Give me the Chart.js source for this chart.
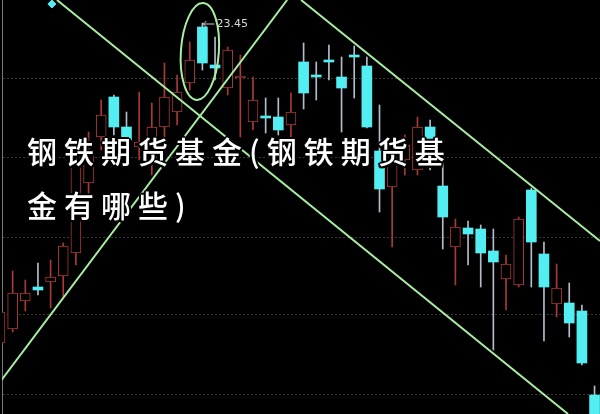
<!DOCTYPE html>
<html>
<head>
<meta charset="utf-8">
<script src="https://cdn.jsdelivr.net/npm/chart.js@4.4.1/dist/chart.umd.min.js"></script>
<style>
    html, body { margin: 0; padding: 0; background: #000; }
    #wrap { position: relative; width: 600px; height: 414px; overflow: hidden; background: #000; }
    #title {
        position: absolute; left: 27px; top: 123px; width: 450px;
        font-family: "Noto Sans CJK SC", sans-serif; font-size: 30px; font-weight: 500;
        line-height: 54px; letter-spacing: 7px; color: #fff;
        text-shadow: -2px 0 #000, 2px 0 #000, 0 -2px #000, 0 2px #000,
                     -1.5px -1.5px #000, 1.5px 1.5px #000, -1.5px 1.5px #000, 1.5px -1.5px #000;
    }
</style>
</head>
<body>
<div id="wrap">
    <canvas id="klineChart"></canvas>
    <div id="title">钢铁期货基金(钢铁期货基金有哪些)</div>
</div>
<script>
// =========================
// DATA
// =========================
const opens  = [20.25, 20.39, 20.67, 20.81, 20.86, 20.92, 21.15, 21.85, 22.31, 22.71,
                22.41, 22.21, 22.08, 22.41, 22.56, 22.85, 23.41, 23.03, 22.80, 22.90,
                22.46, 22.52, 22.51, 22.43, 23.06, 22.93, 23.08, 22.91, 23.13, 23.02,
                22.17, 21.81, 22.08, 21.98, 22.41, 21.82, 21.21, 21.40, 21.39, 21.17,
                20.89, 20.83, 21.78, 21.14, 20.64, 20.65, 20.57, 19.73];
const closes = [20.56, 20.75, 20.75, 20.78, 20.91, 21.22, 22.05, 22.18, 22.53, 22.41,
                22.28, 22.26, 22.41, 22.71, 22.76, 23.08, 23.05, 23.00, 23.18, 22.92,
                22.68, 22.50, 22.38, 22.56, 22.75, 22.91, 23.06, 22.80, 23.11, 22.41,
                21.79, 22.05, 22.23, 22.41, 22.05, 21.51, 21.41, 21.34, 21.15, 21.06,
                21.04, 21.49, 21.26, 20.81, 20.80, 20.45, 20.05, 19.48];
const highs  = [20.63, 20.97, 20.88, 21.05, 21.08, 21.25, 22.18, 22.36, 22.68, 22.73,
                22.56, 22.76, 22.65, 23.05, 22.93, 23.26, 23.45, 23.31, 23.21, 23.13,
                22.91, 22.70, 22.70, 22.75, 23.25, 23.06, 23.23, 23.11, 23.22, 23.11,
                22.63, 22.13, 22.33, 22.51, 22.48, 22.08, 21.49, 21.47, 21.43, 21.39,
                21.13, 21.51, 21.80, 21.26, 21.04, 20.85, 20.63, 19.82];
const lows   = [20.18, 20.36, 20.57, 20.73, 20.60, 20.71, 21.03, 21.73, 22.18, 22.33,
                22.21, 22.08, 21.93, 22.28, 22.43, 22.78, 22.98, 22.88, 22.73, 22.31,
                22.38, 22.35, 22.33, 22.23, 22.59, 22.68, 22.88, 22.36, 22.70, 22.40,
                21.56, 21.21, 21.93, 21.93, 21.98, 21.19, 20.83, 21.03, 20.81, 20.18,
                20.58, 20.81, 20.81, 20.27, 20.51, 20.31, 20.03, 19.38];

// horizontal dotted grid
const gridPrices = [22.89, 22.10, 21.31, 20.53, 19.74];

// trend lines (bar index, price)
const trendDown1 = [{ x: 4.5, y: 23.68 }, { x: 44.9, y: 19.54 }];
const trendUp    = [{ x: 0, y: 19.86 }, { x: 22.7, y: 23.68 }];
const trendDown2 = [{ x: 23.8, y: 23.68 }, { x: 47.43, y: 21.27 }];

// small marker top-left
const markerPoint = [{ x: 4.1, y: 23.64 }];

// circled peak
const peakIndex = 16;
const peakLabel = "23.45";
const ellipseMark = { x: 15.8, y: 23.165, rx: 1.5, ry: 0.485 };

// =========================
// COLORS
// =========================
const UP_RED = "#a83a38";
const DOWN_CYAN = "#52eef2";
const DOWN_WICK = "#b4bccc";
const LINE_GREEN = "#a8eea2";

// =========================
// BUILD SERIES
// =========================
const upWicks = [], downWicks = [], upBodies = [], downBodies = [];
opens.forEach((o, i) => {
    const isUp = closes[i] >= o;
    const wick = { x: i, y: [lows[i], highs[i]] };
    const body = { x: i, y: [o, closes[i]] };
    if (isUp) { upWicks.push(wick); upBodies.push(body); }
    else { downWicks.push(wick); downBodies.push(body); }
});

// =========================
// OVERLAY PLUGIN (ellipse + peak label)
// =========================
const overlayPlugin = {
    id: "overlay",
    afterDatasetsDraw(chart) {
        const { ctx, scales: { x, y } } = chart;
        const cx = x.getPixelForValue(ellipseMark.x);
        const cy = y.getPixelForValue(ellipseMark.y);
        const rx = Math.abs(x.getPixelForValue(ellipseMark.x + ellipseMark.rx) - cx);
        const ry = Math.abs(y.getPixelForValue(ellipseMark.y + ellipseMark.ry) - cy);

        ctx.save();
        ctx.strokeStyle = LINE_GREEN;
        ctx.lineWidth = 2;
        ctx.beginPath();
        ctx.ellipse(cx, cy, rx, ry, 0.07, 0, Math.PI * 2);
        ctx.stroke();

        // peak arrow + value
        const px = x.getPixelForValue(peakIndex);
        const py = y.getPixelForValue(highs[peakIndex]) + 1;
        ctx.strokeStyle = "#d0d0d0";
        ctx.lineWidth = 1;
        ctx.beginPath();
        ctx.moveTo(px + 1, py);
        ctx.lineTo(px + 12, py);
        ctx.moveTo(px + 1, py);
        ctx.lineTo(px + 4, py - 3);
        ctx.moveTo(px + 1, py);
        ctx.lineTo(px + 4, py + 3);
        ctx.stroke();
        ctx.fillStyle = "#d8d8d8";
        ctx.font = "11px 'DejaVu Sans', sans-serif";
        ctx.textBaseline = "middle";
        ctx.fillText(peakLabel, px + 14, py);
        ctx.restore();
    }
};

// =========================
// CHART
// =========================
const lineDs = (data) => ({
    type: "line",
    data,
    borderColor: LINE_GREEN,
    borderWidth: 2,
    pointRadius: 0,
    fill: false,
    order: 0
});

new Chart(document.getElementById("klineChart"), {
    type: "bar",
    data: {
        datasets: [
            lineDs(trendDown1),
            lineDs(trendUp),
            lineDs(trendDown2),
            {
                type: "line",
                data: markerPoint,
                showLine: false,
                pointStyle: "rectRot",
                pointRadius: 4,
                backgroundColor: DOWN_CYAN,
                borderColor: DOWN_CYAN,
                order: 0
            },
            {
                data: upBodies,
                backgroundColor: "#000",
                borderColor: UP_RED,
                borderWidth: 1,
                borderSkipped: false,
                barThickness: 10,
                grouped: false,
                order: 1
            },
            {
                data: downBodies,
                backgroundColor: DOWN_CYAN,
                borderWidth: 0,
                barThickness: 10,
                grouped: false,
                order: 1
            },
            {
                data: upWicks,
                backgroundColor: UP_RED,
                barThickness: 1,
                grouped: false,
                order: 2
            },
            {
                data: downWicks,
                backgroundColor: DOWN_WICK,
                barThickness: 1,
                grouped: false,
                order: 2
            }
        ]
    },
    options: {
        responsive: true,
        maintainAspectRatio: false,
        animation: false,
        layout: { padding: 0, autoPadding: false },
        plugins: {
            legend: { display: false },
            tooltip: { enabled: false }
        },
        scales: {
            x: {
                type: "linear",
                min: 0.158,
                max: 47.43,
                offset: false,
                display: false
            },
            y: {
                min: 19.54,
                max: 23.68,
                ticks: { display: false },
                grid: { color: "rgba(140,120,120,0.45)", drawTicks: false },
                border: { display: true, color: "#777", dash: [2, 2] },
                afterFit: axis => { axis.width = 2; },
                afterBuildTicks: axis => {
                    axis.ticks = gridPrices.map(v => ({ value: v }));
                }
            }
        }
    },
    plugins: [overlayPlugin]
});
</script>
</body>
</html>
